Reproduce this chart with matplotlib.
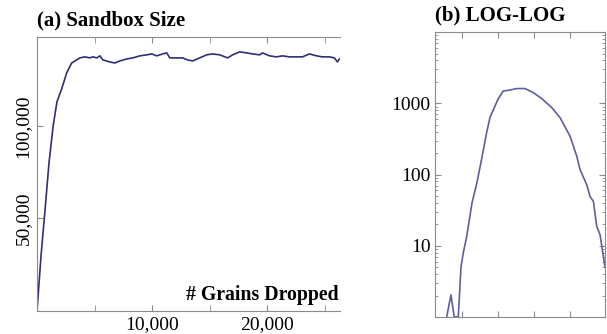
import matplotlib
matplotlib.use("Agg")
import matplotlib.pyplot as plt
from matplotlib.ticker import FixedLocator, NullFormatter, FuncFormatter, LogLocator

plt.rcParams["font.family"] = ["Liberation Serif", "DejaVu Serif"]

# (a) sandbox size vs grains dropped
grains = [0, 350, 700, 1040, 1400, 1730, 2140, 2574, 3007, 3726, 4160, 4592, 4852, 5199,
          5459, 5719, 6325, 6759, 7192, 7798, 8318, 8925, 9532, 9965, 10398, 10918, 11265,
          11525, 12131, 12651, 13084, 13517, 14124, 14731, 15250, 15857, 16550, 16983,
          17590, 18197, 18716, 19323, 19583, 20189, 20796, 21316, 21922, 22529, 23049,
          23655, 24262, 24782, 25388, 25821, 26081, 26250]
size = [0, 30000, 55000, 80000, 100000, 113000, 120000, 128600, 134000, 136750, 137300,
        136750, 137300, 136750, 137850, 135650, 134550, 134000, 135100, 136200, 136750,
        137850, 138400, 138900, 137850, 138900, 139450, 136750, 136750, 136750, 135650,
        135100, 136750, 138400, 138900, 138400, 136750, 138400, 140000, 139450, 138900,
        138400, 139450, 137850, 137300, 137850, 137300, 137300, 137300, 138900, 137850,
        137300, 137300, 136750, 134550, 136200]

# (b) log-log distribution
loga_x = [3.76, 4.94, 6.1, 7.9, 9.4, 10.9, 13.5, 19, 26, 34, 48.5, 60, 100, 140, 193, 330,
          562, 956, 1640, 3100, 5270, 10000, 15350, 19000, 29000, 36000, 44500, 55000,
          68000, 93000]
loga_y = [1, 2.04, 1, 1, 5.06, 8.0, 13.4, 40, 77, 152, 390, 635, 1140, 1490, 1520, 1610,
          1610, 1410, 1165, 870, 630, 345, 181, 117, 72, 49, 42, 18.7, 14.3, 5.1]

fig = plt.figure(figsize=(6.07, 3.34), dpi=100)
spine_col = "#8a8a8a"

ax1 = fig.add_axes([0.061, 0.069, 0.499, 0.820])
ax1.plot(grains, size, color="#2e2e7c", lw=1.2)
ax1.set_xlim(0, 26300)
ax1.set_ylim(0, 148000)
ax1.spines["right"].set_visible(False)
for s in ["left", "bottom", "top"]:
    ax1.spines[s].set_color(spine_col)
ax1.xaxis.set_major_locator(FixedLocator([10000, 20000]))
ax1.xaxis.set_minor_locator(FixedLocator([5000, 15000, 25000]))
ax1.xaxis.set_major_formatter(FuncFormatter(lambda v, p: f"{int(v):,}"))
ax1.yaxis.set_major_locator(FixedLocator([50000, 100000]))
ax1.yaxis.set_major_formatter(FuncFormatter(lambda v, p: f"{int(v):,}"))
ax1.tick_params(axis="x", which="both", direction="in", top=True, length=4, color=spine_col,
                labelsize=14, pad=4)
ax1.tick_params(axis="y", which="both", direction="in", length=4, color=spine_col,
                labelsize=14, pad=4)
for lab in ax1.get_yticklabels():
    lab.set_rotation(90)
    lab.set_va("center")
ax1.set_title("(a) Sandbox Size", loc="left", fontsize=15, fontweight="bold", pad=8)
ax1.text(0.997, 0.06, "# Grains Dropped", transform=ax1.transAxes, ha="right", va="center",
         fontsize=14.2, fontweight="bold")

ax2 = fig.add_axes([0.7166, 0.051, 0.280, 0.853])
ax2.plot(loga_x, loga_y, color="#5c5f9c", lw=1.2)
ax2.set_xscale("log")
ax2.set_yscale("log")
ax2.set_xlim(1.78, 93000)
ax2.set_ylim(1, 10000)
for s in ax2.spines.values():
    s.set_color(spine_col)
ax2.xaxis.set_major_locator(FixedLocator([10, 100, 1000, 10000]))
ax2.xaxis.set_minor_locator(FixedLocator([]))
ax2.xaxis.set_major_formatter(NullFormatter())
ax2.yaxis.set_major_locator(FixedLocator([10, 100, 1000]))
ax2.yaxis.set_minor_locator(LogLocator(base=10, subs=range(2, 10)))
ax2.yaxis.set_minor_formatter(NullFormatter())
ax2.yaxis.set_major_formatter(FuncFormatter(lambda v, p: f"{int(v)}"))
ax2.tick_params(axis="both", which="major", direction="in", top=True, right=True, length=4,
                color=spine_col, labelsize=14, pad=3)
ax2.tick_params(axis="y", which="minor", direction="in", right=True, length=2.5, color=spine_col)
ax2.set_title("(b) LOG-LOG", loc="left", fontsize=15, fontweight="bold", pad=8)

fig.savefig("out.png", dpi=100)
